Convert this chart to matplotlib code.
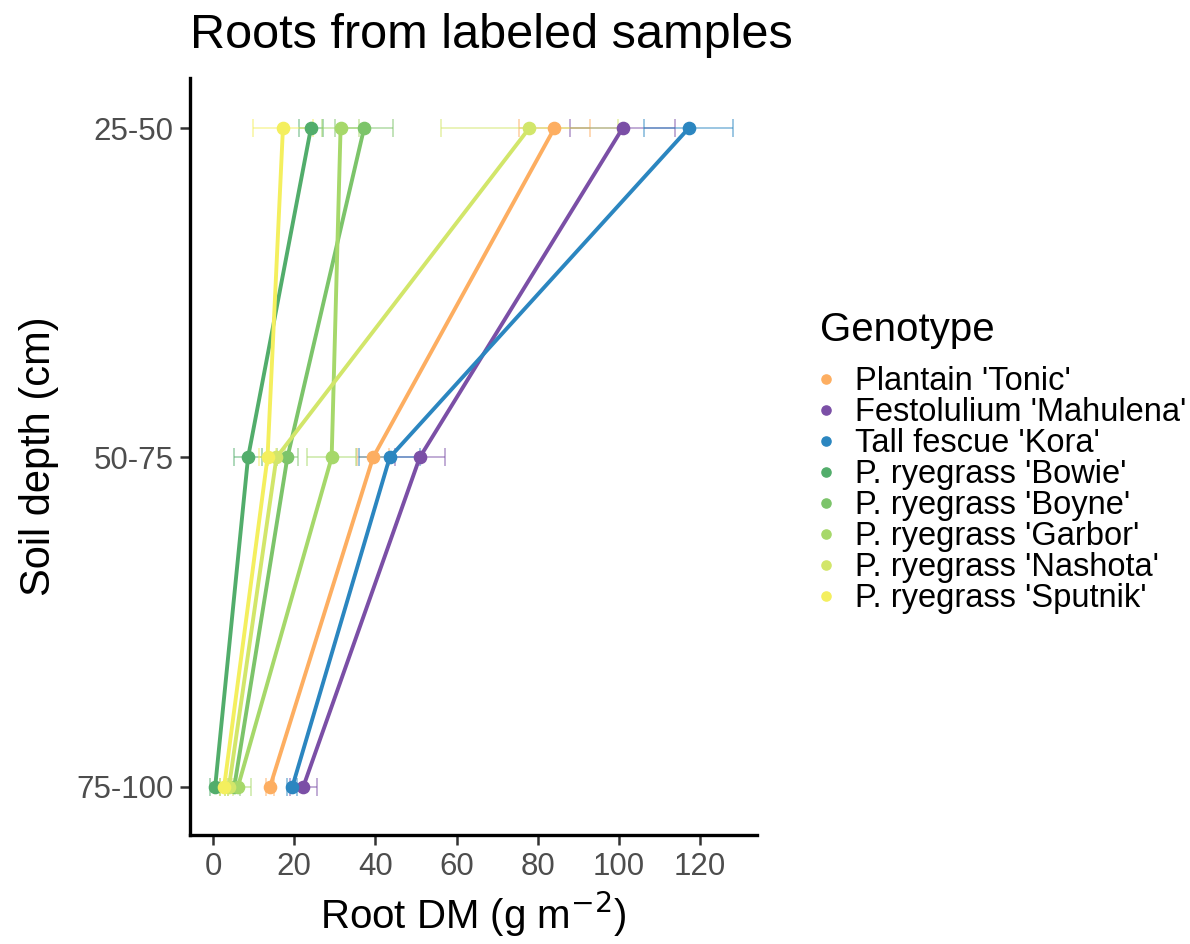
import matplotlib.pyplot as plt
import numpy as np

plt.rcParams['font.family'] = ['Liberation Sans', 'DejaVu Sans']

# data
depths = ["25-50", "50-75", "75-100"]
genotypes = ["Plantain 'Tonic'", "Festolulium 'Mahulena'", "Tall fescue 'Kora'",
             "P. ryegrass 'Bowie'", "P. ryegrass 'Boyne'", "P. ryegrass 'Garbor'",
             "P. ryegrass 'Nashota'", "P. ryegrass 'Sputnik'"]
colors = ["#fdae61", "#7b4fa6", "#2b86c0", "#52ad6b", "#7cc46a",
          "#a6d86a", "#d2e66a", "#f4ef5e"]

root_dm = {
    "Plantain 'Tonic'":       [84.1, 39.4, 14.0],
    "Festolulium 'Mahulena'": [100.9, 50.9, 22.2],
    "Tall fescue 'Kora'":     [117.2, 43.5, 19.5],
    "P. ryegrass 'Bowie'":    [24.1, 8.6, 0.5],
    "P. ryegrass 'Boyne'":    [37.2, 18.3, 5.2],
    "P. ryegrass 'Garbor'":   [31.4, 29.2, 6.1],
    "P. ryegrass 'Nashota'":  [77.9, 15.6, 3.9],
    "P. ryegrass 'Sputnik'":  [17.2, 13.4, 2.7],
}
root_se = {
    "Plantain 'Tonic'":       [8.8, 4.0, 1.0],
    "Festolulium 'Mahulena'": [13.0, 6.2, 3.3],
    "Tall fescue 'Kora'":     [11.0, 7.5, 1.2],
    "P. ryegrass 'Bowie'":    [2.9, 3.4, 1.2],
    "P. ryegrass 'Boyne'":    [7.2, 2.5, 1.5],
    "P. ryegrass 'Garbor'":   [4.6, 6.0, 3.2],
    "P. ryegrass 'Nashota'":  [21.8, 2.0, 1.0],
    "P. ryegrass 'Sputnik'":  [7.5, 2.0, 1.0],
}

fig = plt.figure(figsize=(11.9, 9.44), dpi=100)
ax = fig.add_axes([190/1190, 1-835/944, 567/1190, 757/944])

y = np.arange(1, len(depths)+1)
for g, c in zip(genotypes, colors):
    ax.errorbar(root_dm[g], y, xerr=root_se[g], fmt='none', ecolor=c,
                elinewidth=1.2, capsize=6.5, capthick=1.2, alpha=0.55, zorder=2)
for g, c in zip(genotypes, colors):
    ax.plot(root_dm[g], y, '-', color=c, lw=2.8, zorder=3)
    ax.plot(root_dm[g], y, 'o', color=c, ms=8.8, zorder=4, label=g)

ax.set_xlim(-5.7, 134)
ax.set_ylim(3.146, 0.848)
ax.set_yticks(y)
ax.set_yticklabels(depths)
ax.set_xticks([0, 20, 40, 60, 80, 100, 120])

for s in ['top', 'right']:
    ax.spines[s].set_visible(False)
for s in ['left', 'bottom']:
    ax.spines[s].set_linewidth(2.4)
ax.tick_params(labelsize=22.5, length=7, width=1.8, pad=5,
               colors='#333333', labelcolor='#4d4d4d')

ax.set_xlabel("Root DM (g m$^{-2}$)", fontsize=29, labelpad=6)
ax.set_ylabel("Soil depth (cm)", fontsize=30, labelpad=12)
fig.text(190/1190, 1-35/944, "Roots from labeled samples", fontsize=35,
         ha='left', va='center')

# legend title drawn on its own so the gap to the keys can match
fig.text(820/1190, 1-330/944, "Genotype", fontsize=29, ha='left', va='center')
handles, labels = ax.get_legend_handles_labels()
leg = fig.legend(handles, labels, loc='upper left',
                 bbox_to_anchor=(813/1190, 1-366/944), frameon=False,
                 borderpad=0, borderaxespad=0,
                 fontsize=23.5, handlelength=0.8,
                 handletextpad=0.49, labelspacing=0.0, markerscale=0.75)

fig.savefig("out.png", dpi=100)
